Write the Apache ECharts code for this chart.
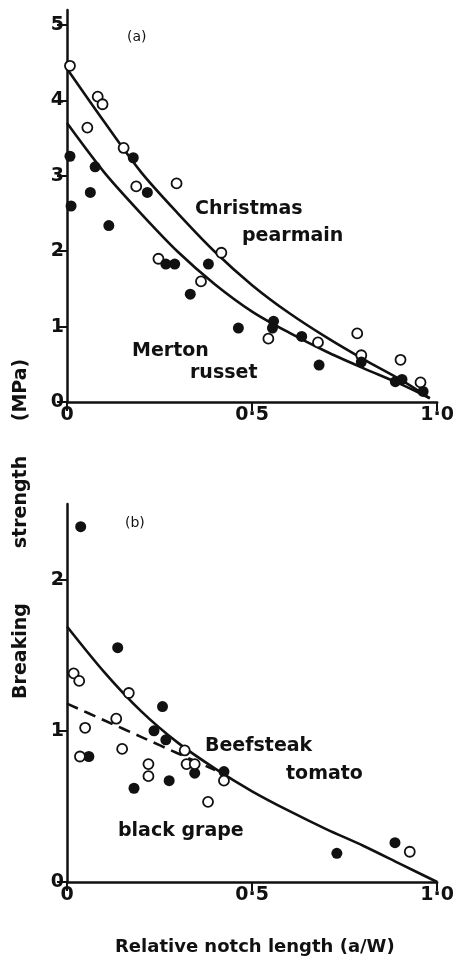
<!DOCTYPE html>
<html>
<head>
<meta charset="utf-8">
<script src="https://cdn.jsdelivr.net/npm/echarts@6/dist/echarts.min.js"></script>
<style>
  html, body { margin: 0; padding: 0; background: #fff; }
  #chart { width: 457px; height: 963px; }
</style>
</head>
<body>
<div id="chart"></div>
<script>
// Tick positions
const xTicks = [0, 0.5, 1];
const yTicksA = [0, 1, 2, 3, 4, 5];
const yTicksB = [0, 1, 2];

// (a) apples: Christmas pearmain (open) and Merton russet (filled)
const pearmainPts = [[0.006,5.21],[0.008,4.46],[0.055,3.64],[0.083,4.05],[0.096,3.95],[0.153,3.37],[0.187,2.86],[0.247,1.90],[0.296,2.90],[0.362,1.60],[0.417,1.98],[0.544,0.84],[0.678,0.79],[0.784,0.91],[0.795,0.62],[0.901,0.56],[0.955,0.26]];
const russetPts = [[0.008,3.26],[0.011,2.60],[0.063,2.78],[0.076,3.12],[0.113,2.34],[0.179,3.24],[0.217,2.78],[0.267,1.83],[0.291,1.83],[0.333,1.43],[0.382,1.83],[0.463,0.98],[0.555,0.98],[0.558,1.07],[0.634,0.87],[0.681,0.49],[0.795,0.53],[0.887,0.27],[0.905,0.30],[0.962,0.14]];
const pearmainCurve = [[0,4.42],[0.1,3.72],[0.2,3.05],[0.3,2.50],[0.4,1.99],[0.5,1.55],[0.6,1.18],[0.7,0.86],[0.8,0.57],[0.9,0.30],[0.98,0.05]];
const russetCurve = [[0,3.70],[0.1,3.05],[0.2,2.50],[0.3,1.99],[0.4,1.56],[0.5,1.20],[0.6,0.92],[0.7,0.67],[0.8,0.45],[0.9,0.24],[0.98,0.05]];

// (b) Beefsteak tomato (filled, solid line) and black grape (open, dashed line)
const tomatoPts = [[0.037,2.35],[0.059,0.83],[0.137,1.55],[0.181,0.62],[0.235,1.00],[0.258,1.16],[0.267,0.94],[0.276,0.67],[0.345,0.72],[0.424,0.73],[0.729,0.19],[0.886,0.26]];
const grapePts = [[0.018,1.38],[0.033,1.33],[0.035,0.83],[0.049,1.02],[0.133,1.08],[0.149,0.88],[0.167,1.25],[0.220,0.78],[0.220,0.70],[0.318,0.87],[0.323,0.78],[0.345,0.78],[0.381,0.53],[0.424,0.67],[0.926,0.20]];
const tomatoCurve = [[0,1.69],[0.1,1.39],[0.2,1.13],[0.3,0.92],[0.4,0.75],[0.5,0.60],[0.6,0.47],[0.7,0.35],[0.8,0.24],[0.9,0.12],[1.0,0.0]];
const grapeCurve = [[0,1.18],[0.1,1.07],[0.2,0.96],[0.3,0.85],[0.4,0.74]];

const FONT = 'DejaVu Sans';
const INK = '#111';

function xAxisCfg(gridIndex) {
  return {
    gridIndex, type: 'value', min: 0, max: 1,
    splitLine: { show: false },
    axisLine: { lineStyle: { color: INK, width: 2.5 } },
    axisTick: { length: 9, lineStyle: { color: INK, width: 2 }, customValues: xTicks },
    axisLabel: {
      customValues: xTicks, color: INK, fontFamily: FONT, fontWeight: 'bold', fontSize: 19, margin: 4,
      formatter: v => v === 0 ? '0' : v.toFixed(1).replace('.', '\u00b7')
    }
  };
}
function yAxisCfg(gridIndex, max, ticks) {
  return {
    gridIndex, type: 'value', min: 0, max,
    splitLine: { show: false },
    axisLine: { lineStyle: { color: INK, width: 2.5 } },
    axisTick: { length: 10, lineStyle: { color: INK, width: 2 }, customValues: ticks },
    axisLabel: { customValues: ticks, color: INK, fontFamily: FONT, fontWeight: 'bold', fontSize: 19, margin: 3 }
  };
}
function curve(name, xi, data, dashed) {
  return {
    name, type: 'line', xAxisIndex: xi, yAxisIndex: xi, data,
    smooth: 0.3,
    symbol: 'none', z: 2,
    lineStyle: { color: INK, width: 2.6, type: dashed ? [12, 7] : 'solid' }
  };
}
function points(name, xi, data, open) {
  return {
    name, type: 'scatter', xAxisIndex: xi, yAxisIndex: xi, data,
    symbol: 'circle', symbolSize: open ? 10 : 11, z: 3,
    itemStyle: open
      ? { color: '#fff', borderColor: INK, borderWidth: 1.8, opacity: 1 }
      : { color: INK, borderColor: INK, borderWidth: 0, opacity: 1 }
  };
}
function label(text, x, y, size, weight) {
  return {
    type: 'text', x, y,
    style: { text, fill: INK, font: `${weight || 'bold'} ${size}px "${FONT}"`, textAlign: 'left', textVerticalAlign: 'middle' }
  };
}
function vlabel(text, cx, cy) {
  return {
    type: 'text', x: cx, y: cy, rotation: Math.PI / 2,
    style: { text, fill: INK, font: `bold 19px "${FONT}"`, textAlign: 'center', textVerticalAlign: 'middle' }
  };
}

const chart = echarts.init(document.getElementById('chart'), null, { renderer: 'canvas' });
chart.setOption({
  animation: false,
  backgroundColor: '#fff',
  grid: [
    { left: 67, top: 10, width: 378, height: 392 },
    { left: 67, top: 504, width: 376, height: 378 }
  ],
  xAxis: [xAxisCfg(0), xAxisCfg(1)],
  yAxis: [yAxisCfg(0, 5.2, yTicksA), yAxisCfg(1, 2.5, yTicksB)],
  series: [
    curve('Christmas pearmain fit', 0, pearmainCurve, false),
    curve('Merton russet fit', 0, russetCurve, false),
    points('Christmas pearmain', 0, pearmainPts, true),
    points('Merton russet', 0, russetPts, false),
    curve('Beefsteak tomato fit', 1, tomatoCurve, false),
    curve('black grape fit', 1, grapeCurve, true),
    points('Beefsteak tomato', 1, tomatoPts, false),
    points('black grape', 1, grapePts, true)
  ],
  graphic: [
    label('(a)', 127, 37, 14, 'normal'),
    label('(b)', 125, 523, 14, 'normal'),
    label('Christmas', 195, 209, 19),
    label('pearmain', 242, 236, 19),
    label('Merton', 132, 351, 19),
    label('russet', 190, 373, 19),
    label('Beefsteak', 205, 746, 19),
    label('tomato', 286, 774, 19),
    label('black grape', 118, 831, 19),
    label('Relative notch length (a/W)', 115, 947, 18),
    vlabel('Breaking', 21, 651),
    vlabel('strength', 21, 502),
    vlabel('(MPa)', 21, 390)
  ]
});
</script>
</body>
</html>
